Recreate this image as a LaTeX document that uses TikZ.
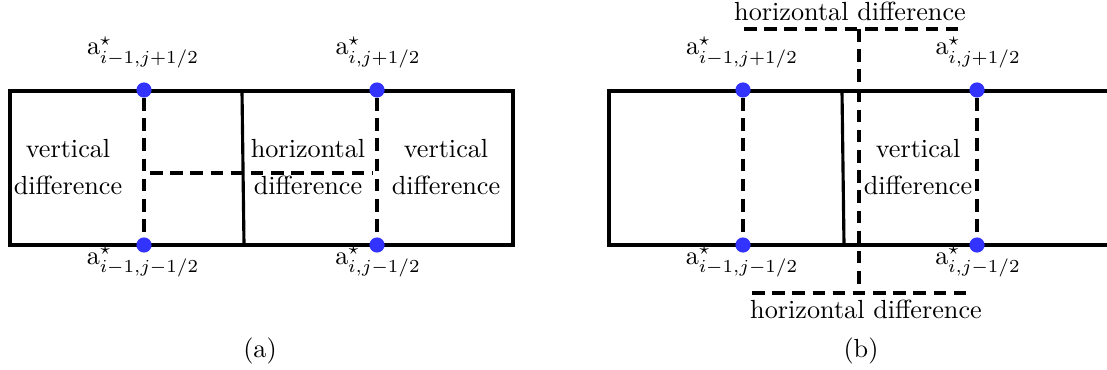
\documentclass[tikz,border=0pt]{standalone}
\definecolor{dotblue}{RGB}{51,51,255}
\tikzset{
  cell/.style={line width=1.2pt},
  dashln/.style={line width=1.35pt, dash pattern=on 4.8pt off 2.9pt},
  dotpt/.style={circle, fill=dotblue, inner sep=0pt, minimum size=5.8pt},
  lbl/.style={inner sep=0pt, anchor=base},
}
\begin{document}
\begin{tikzpicture}[x=0.3817pt, y=-0.3817pt]
\useasboundingbox (0,0) rectangle (1107,369);
% ---------- panel (a) ----------
\coordinate (a-tl) at (10,91);
\coordinate (a-tr) at (513,91);
\coordinate (a-br) at (513,245);
\coordinate (a-bl) at (10,245);
\coordinate (a-mt) at (242,91);
\coordinate (a-mb) at (244,245);
\draw[cell] (a-tl) -- (a-tr) -- (a-br) -- (a-bl) -- cycle;
\draw[cell] (a-mt) -- (a-mb);
\node[dotpt] (a1t) at (144,90) {};
\node[dotpt] (a1b) at (144,245) {};
\node[dotpt] (a2t) at (377,90) {};
\node[dotpt] (a2b) at (377,245) {};
\draw[dashln] (a1t) -- (a1b);
\draw[dashln] (a2t) -- (a2b);
\coordinate (a-hl) at (150,173);
\coordinate (a-hr) at (372,173);
\draw[dashln] (a-hl) -- (a-hr);
\node[lbl] (la1t) at (143,55) {$\mathrm{a}^\star_{i-1,j+1/2}$};
\node[lbl] (la2t) at (378,55) {$\mathrm{a}^\star_{i,j+1/2}$};
\node[lbl] (la1b) at (143,264) {$\mathrm{a}^\star_{i-1,j-1/2}$};
\node[lbl] (la2b) at (378,264) {$\mathrm{a}^\star_{i,j-1/2}$};
\node[lbl] (av1) at (68,157) {vertical};
\node[lbl] (ad1) at (68,194) {difference};
\node[lbl] (ah2) at (308,157) {horizontal};
\node[lbl] (ad2) at (308,194) {difference};
\node[lbl] (av3) at (446,157) {vertical};
\node[lbl] (ad3) at (446,194) {difference};
\node[lbl] (capa) at (260,357) {(a)};
% ---------- panel (b) ----------
\coordinate (b-tr) at (1107,91);
\coordinate (b-tl) at (609,91);
\coordinate (b-bl) at (609,245);
\coordinate (b-br) at (1107,245);
\coordinate (b-mt) at (842,91);
\coordinate (b-mb) at (844,245);
\draw[cell] (b-tr) -- (b-tl) -- (b-bl) -- (b-br);
\draw[cell] (b-mt) -- (b-mb);
\node[dotpt] (b1t) at (743,90) {};
\node[dotpt] (b1b) at (743,245) {};
\node[dotpt] (b2t) at (977,90) {};
\node[dotpt] (b2b) at (977,245) {};
\draw[dashln] (b1t) -- (b1b);
\draw[dashln] (b2t) -- (b2b);
\coordinate (b-vt) at (859,29);
\coordinate (b-vb) at (859,293);
\coordinate (b-tl2) at (744,29);
\coordinate (b-tr2) at (963,29);
\coordinate (b-bl2) at (752,293);
\coordinate (b-br2) at (971,293);
\draw[dashln] (b-tl2) -- (b-tr2);
\draw[dashln] (b-vt) -- (b-vb);
\draw[dashln] (b-bl2) -- (b-br2);
\node[lbl] (lb1t) at (742,55) {$\mathrm{a}^\star_{i-1,j+1/2}$};
\node[lbl] (lb2t) at (978,55) {$\mathrm{a}^\star_{i,j+1/2}$};
\node[lbl] (lb1b) at (742,264) {$\mathrm{a}^\star_{i-1,j-1/2}$};
\node[lbl] (lb2b) at (978,264) {$\mathrm{a}^\star_{i,j-1/2}$};
\node[lbl] (bht) at (850,21) {horizontal difference};
\node[lbl] (bhb) at (866,318) {horizontal difference};
\node[lbl] (bv) at (918,157) {vertical};
\node[lbl] (bd) at (918,194) {difference};
\node[lbl] (capb) at (861,357) {(b)};
\end{tikzpicture}
\end{document}
